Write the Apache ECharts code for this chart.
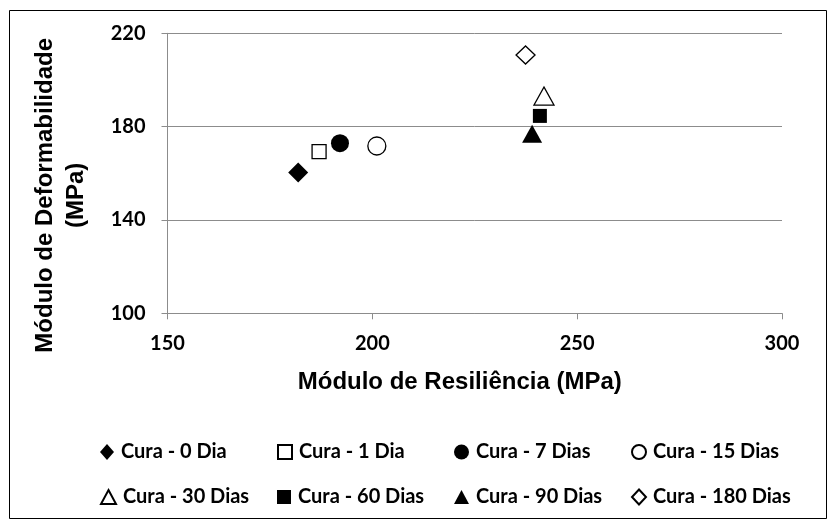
<!DOCTYPE html>
<html>
<head>
<meta charset="utf-8">
<script src="https://cdn.jsdelivr.net/npm/echarts@6/dist/echarts.min.js"></script>
<style>
html,body{margin:0;padding:0;background:#fff;}
#chart{width:835px;height:529px;}
</style>
</head>
<body>
<div id="chart"></div>
<script>
const seriesNames = ['Cura - 0 Dia','Cura - 1 Dia','Cura - 7 Dias','Cura - 15 Dias','Cura - 30 Dias','Cura - 60 Dias','Cura - 90 Dias','Cura - 180 Dias'];
const resiliencia = [181.9, 187.0, 192.1, 201.1, 241.9, 240.9, 239.0, 237.4];
const deformabilidade = [160.3, 169.3, 172.9, 171.7, 193.1, 184.6, 176.9, 210.7];
const xTicks = [150, 200, 250, 300];
const yTicks = [100, 140, 180, 220];

const symbols = ['diamond','rect','circle','circle','triangle','rect','triangle','diamond'];
const filled = [true,false,true,false,false,true,true,false];
const sizes = [20,14,18,18,[20,18],14,[20,18],[19,18]];
const legendIconSizes = [[14,16],[14,14],[15,15],[14,14],[15,14],[14,14],[15,14],[14,15]];

const legendPos = [
  {left:100, top:442},{left:277, top:442},{left:454, top:442},{left:631, top:442},
  {left:100, top:487},{left:277, top:487},{left:454, top:487},{left:631, top:487}
];

const chart = echarts.init(document.getElementById('chart'), null, {renderer:'canvas'});

const series = seriesNames.map((n,i)=>({
  name:n,
  type:'scatter',
  symbol:symbols[i],
  symbolSize:sizes[i],
  itemStyle:{opacity:1, color: filled[i] ? '#000' : '#fff', borderColor:'#000', borderWidth: filled[i] ? 0 : 1.3},
  emphasis:{disabled:true},
  data:[[resiliencia[i], deformabilidade[i]]],
  z:3
}));

const legends = seriesNames.map((n,i)=>({
  data:[{name:n, icon:symbols[i]}],
  left:legendPos[i].left, top:legendPos[i].top,
  itemWidth:legendIconSizes[i][0], itemHeight:legendIconSizes[i][1],
  itemGap:0,
  padding:0,
  selectedMode:false,
  itemStyle:{opacity:1},
  textStyle:{fontFamily:'Lato', fontWeight:'bold', fontSize:20, color:'#000', padding:[0,0,0,2]}
}));

chart.setOption({
  animation:false,
  backgroundColor:'#fff',
  graphic:[{type:'rect', shape:{x:9.5,y:10.5,width:817,height:508}, style:{fill:'none', stroke:'#000', lineWidth:1}, silent:true}],
  grid:{left:167.5, right:53, top:33.3, bottom:215.7, outerBoundsMode:'none', containLabel:false},
  legend:legends,
  xAxis:{
    type:'value', min:xTicks[0], max:xTicks[xTicks.length-1], interval:50,
    name:'Módulo de Resiliência (MPa)', nameLocation:'middle', nameGap:57,
    nameTextStyle:{fontFamily:'Liberation Sans', fontWeight:'bold', fontSize:24, color:'#000', padding:[0,30,0,0]},
    axisLine:{show:true, lineStyle:{color:'#8c8c8c', width:1}},
    axisTick:{show:true, inside:false, length:6, lineStyle:{color:'#8c8c8c'}},
    axisLabel:{fontFamily:'Lato', fontWeight:'bold', fontSize:20, color:'#000', margin:20},
    splitLine:{show:false}
  },
  yAxis:{
    type:'value', min:yTicks[0], max:yTicks[yTicks.length-1], interval:40,
    name:'Módulo de Deformabilidade\n(MPa)', nameLocation:'middle', nameGap:76,
    nameTextStyle:{fontFamily:'Liberation Sans', fontWeight:'bold', fontSize:24, color:'#000', lineHeight:31, padding:[0,44,0,0]},
    axisLine:{show:true, lineStyle:{color:'#8c8c8c', width:1}},
    axisTick:{show:true, length:6, lineStyle:{color:'#8c8c8c'}},
    axisLabel:{fontFamily:'Lato', fontWeight:'bold', fontSize:20, color:'#000', margin:22},
    splitLine:{show:true, lineStyle:{color:'#8c8c8c', width:1}}
  },
  series:series
});
</script>
</body>
</html>
